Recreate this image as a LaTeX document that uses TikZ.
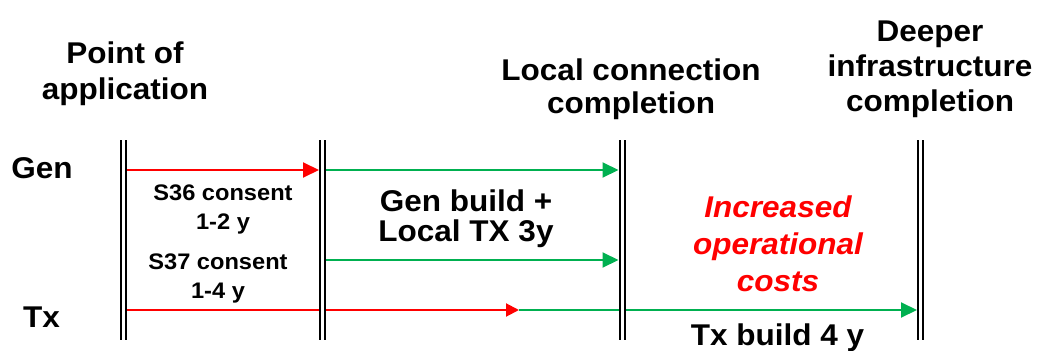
\documentclass[tikz,border=0pt]{standalone}
\usepackage{fontspec}
\setmainfont[FakeStretch=1.05]{Liberation Sans}
\usetikzlibrary{arrows.meta, positioning}
\definecolor{buildgreen}{RGB}{0,176,80}

\begin{document}
\begin{tikzpicture}[x=1pt, y=-1pt,
    bar/.style={line width=2pt, double=white, double distance=3pt},
    consent/.style={draw=red, line width=2pt, -{Triangle[length=16pt,width=15pt]}},
    build/.style={draw=buildgreen, line width=2pt, -{Triangle[length=16pt,width=15pt]}},
    heading/.style={font=\bfseries\fontsize{30}{35}\selectfont, align=center, inner sep=0pt},
    note/.style={font=\bfseries\fontsize{22.5}{29}\selectfont, align=center, inner sep=0pt}]
  \useasboundingbox (0,0) rectangle (1037,351);

  % milestones
  \coordinate (pa top) at (123,140);   \coordinate (pa bot) at (123,340);
  \coordinate (cs top) at (322.5,140); \coordinate (cs bot) at (322.5,340);
  \coordinate (lc top) at (622,140);   \coordinate (lc bot) at (622,340);
  \coordinate (dc top) at (920.5,140); \coordinate (dc bot) at (920.5,340);

  \node[heading, font=\bfseries\fontsize{30}{36}\selectfont] (pa) at (125,74) {Point of\\application};
  \node[heading, font=\bfseries\fontsize{30}{33}\selectfont] (lc) at (631,89) {Local connection\\completion};
  \node[heading] (dc) at (930,69) {Deeper\\infrastructure\\completion};

  % rows
  \node[heading, anchor=base] (gen) at (42,178) {Gen};
  \node[heading, anchor=base] (tx) at (41.5,327) {Tx};

  \coordinate (gen start) at (123,170);
  \coordinate (gen consent) at (319,170);
  \coordinate (gen build) at (322.5,170);
  \coordinate (gen local) at (618.5,170);
  \coordinate (mid build) at (322.5,260);
  \coordinate (mid local) at (618.5,260);
  \coordinate (tx start) at (123,310);
  \coordinate (tx consent) at (519,310);
  \coordinate (tx deep) at (917,310);

  \draw[consent] (gen start) -- (gen consent);
  \draw[build] (gen build) -- (gen local);
  \draw[build] (mid build) -- (mid local);
  \draw[consent, -{Triangle[length=13pt,width=13pt]}] (tx start) -- (tx consent);
  \draw[build] (tx consent) -- (tx deep);

  \foreach \m in {pa, cs, lc, dc}
    \draw[bar] (\m\space top) -- (\m\space bot);

  \node[note] (s36) at (223,209) {S36 consent\\1-2 y};
  \node[note] (s37) at (218,278) {S37 consent\\1-4 y};
  \node[heading, font=\bfseries\fontsize{30}{30}\selectfont] (genbuild) at (466,218.5) {Gen build +\\Local TX 3y};
  \node[heading, font=\bfseries\itshape\fontsize{30}{37}\selectfont, text=red] (costs) at (778,243.5) {Increased\\operational\\costs};
  \node[heading, anchor=base] (txbuild) at (777.5,345) {Tx build 4 y};
\end{tikzpicture}
\end{document}
